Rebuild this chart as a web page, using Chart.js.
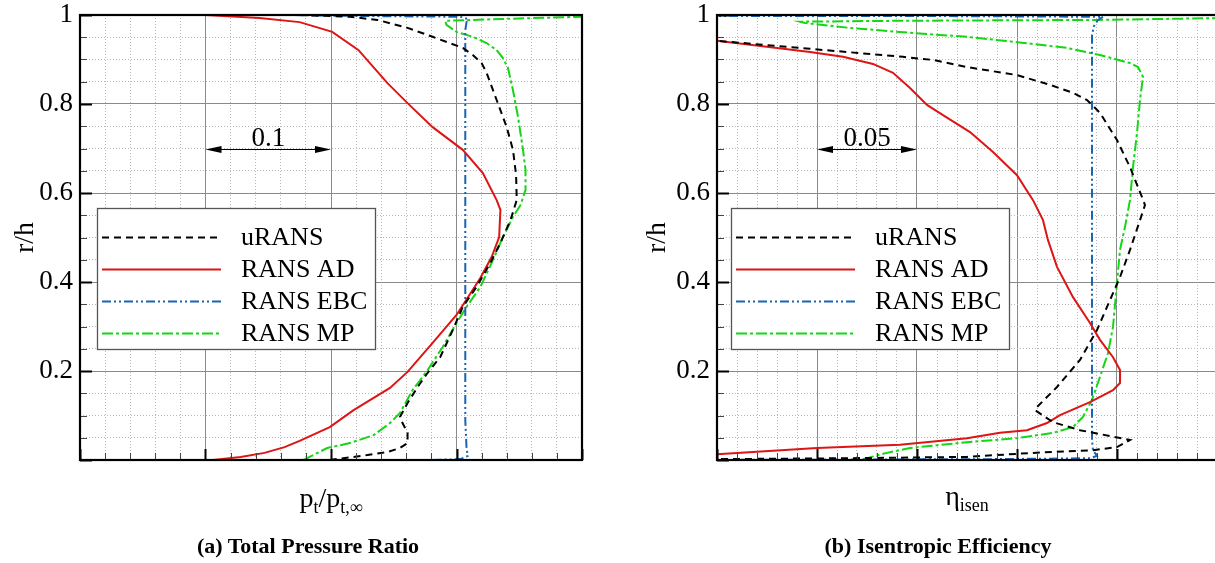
<!DOCTYPE html>
<html><head><meta charset="utf-8">
<script src="https://cdn.jsdelivr.net/npm/chart.js@4.4.1/dist/chart.umd.min.js"></script>
<style>
html,body{margin:0;padding:0;background:#fff;overflow:hidden;width:1215px;height:563px;}
#wrap{position:relative;width:1215px;height:563px;overflow:hidden;font-family:'Liberation Serif','Times New Roman',serif;color:#000;}
canvas{position:absolute;top:0;}
.xt{position:absolute;font-size:28px;line-height:28px;white-space:nowrap;transform:translateX(-50%);}
.sb{font-size:18px;position:relative;top:6px;}
.cap{position:absolute;font-size:22px;font-weight:bold;line-height:22px;white-space:nowrap;transform:translateX(-50%);}
</style></head>
<body><div id="wrap">
<canvas id="c1" width="600" height="563" style="left:0"></canvas>
<canvas id="c2" width="630" height="563" style="left:600px"></canvas>
<div class="xt" style="left:331px;top:484px">p<span class="sb">t</span>/p<span class="sb">t,∞</span></div>
<div class="xt" style="left:967px;top:482px">η<span class="sb">isen</span></div>
<div class="cap" style="left:308px;top:535px">(a) Total Pressure Ratio</div>
<div class="cap" style="left:938px;top:535px">(b) Isentropic Efficiency</div>
</div>
<script>
// ---------- data: [x value, r/h] ----------
const seriesLabels = ['uRANS', 'RANS AD', 'RANS EBC', 'RANS MP'];

// (a) total pressure ratio
const pt_uRANS = [[0.799,0],[0.829,0.011],[0.845,0.018],[0.855,0.027],[0.861,0.038],[0.861,0.061],[0.857,0.083],[0.855,0.097],[0.861,0.128],[0.869,0.164],[0.877,0.196],[0.887,0.231],[0.897,0.292],[0.905,0.344],[0.916,0.389],[0.927,0.443],[0.935,0.488],[0.943,0.539],[0.948,0.584],[0.9475,0.64],[0.945,0.697],[0.940,0.748],[0.932,0.809],[0.924,0.870],[0.920,0.892],[0.913,0.910],[0.905,0.926],[0.881,0.951],[0.861,0.971],[0.837,0.989],[0.815,0.996],[0.775,1.0]];
const pt_AD = [[0.706,0],[0.728,0.007],[0.747,0.016],[0.763,0.029],[0.775,0.043],[0.799,0.074],[0.818,0.112],[0.847,0.162],[0.861,0.198],[0.881,0.263],[0.900,0.326],[0.919,0.409],[0.928,0.456],[0.934,0.501],[0.935,0.562],[0.932,0.584],[0.921,0.645],[0.905,0.697],[0.881,0.748],[0.861,0.802],[0.845,0.847],[0.831,0.892],[0.822,0.921],[0.801,0.962],[0.775,0.984],[0.743,0.993],[0.700,1.0]];
const pt_EBC = [[0.881,0],[0.903,0.002],[0.909,0.009],[0.908,0.027],[0.907,0.09],[0.907,0.5],[0.907,0.966],[0.908,0.984],[0.909,0.991],[0.903,0.996],[0.815,0.998],[0.767,1.0]];
const pt_MP = [[0.778,0],[0.797,0.027],[0.815,0.038],[0.834,0.056],[0.847,0.083],[0.855,0.106],[0.865,0.157],[0.877,0.202],[0.889,0.254],[0.900,0.308],[0.908,0.344],[0.919,0.389],[0.929,0.449],[0.937,0.501],[0.945,0.546],[0.951,0.573],[0.955,0.607],[0.955,0.652],[0.953,0.697],[0.949,0.771],[0.945,0.831],[0.941,0.881],[0.937,0.903],[0.932,0.921],[0.924,0.937],[0.913,0.951],[0.900,0.962],[0.892,0.978],[0.891,0.987],[0.935,0.991],[1.0,0.996],[1.02,0.997]];

// (b) isentropic efficiency
const eta_uRANS = [[0.74,0.001],[0.75,0.002],[0.8165,0.004],[0.875,0.007],[0.908,0.016],[0.938,0.022],[0.95,0.029],[0.9565,0.045],[0.9315,0.067],[0.918,0.085],[0.909,0.112],[0.91,0.119],[0.92,0.164],[0.9315,0.225],[0.94,0.292],[0.945,0.344],[0.9515,0.411],[0.9565,0.472],[0.9615,0.539],[0.964,0.573],[0.9615,0.602],[0.9565,0.658],[0.95,0.719],[0.9415,0.780],[0.935,0.809],[0.928,0.825],[0.9165,0.843],[0.90,0.865],[0.875,0.883],[0.858,0.899],[0.843,0.906],[0.7965,0.924],[0.75,0.942],[0.74,0.945]];
const eta_AD = [[0.74,0.011],[0.75,0.013],[0.80,0.027],[0.8415,0.034],[0.875,0.049],[0.8915,0.061],[0.905,0.067],[0.915,0.083],[0.9215,0.101],[0.9365,0.130],[0.948,0.157],[0.9515,0.173],[0.9515,0.202],[0.948,0.231],[0.9415,0.270],[0.9365,0.308],[0.928,0.366],[0.92,0.434],[0.9155,0.494],[0.913,0.539],[0.908,0.584],[0.90,0.640],[0.888,0.692],[0.8765,0.737],[0.863,0.775],[0.855,0.798],[0.8465,0.836],[0.838,0.870],[0.828,0.890],[0.813,0.906],[0.7965,0.917],[0.75,0.942],[0.74,0.946]];
const eta_EBC = [[0.74,0.0],[0.8915,0.002],[0.9365,0.004],[0.94,0.009],[0.938,0.022],[0.9375,0.045],[0.9375,0.5],[0.9375,0.955],[0.9385,0.975],[0.9405,0.989],[0.943,0.996],[0.8415,0.998],[0.74,0.998]];
const eta_MP = [[0.823,0.002],[0.835,0.016],[0.8465,0.027],[0.875,0.040],[0.90,0.049],[0.918,0.061],[0.928,0.074],[0.933,0.097],[0.9375,0.135],[0.9415,0.187],[0.9455,0.240],[0.948,0.299],[0.95,0.398],[0.9515,0.472],[0.954,0.524],[0.9565,0.584],[0.958,0.658],[0.96,0.735],[0.9615,0.809],[0.963,0.861],[0.9605,0.883],[0.9565,0.892],[0.9415,0.910],[0.925,0.926],[0.90,0.939],[0.875,0.951],[0.8465,0.960],[0.8165,0.971],[0.794,0.982],[0.7915,0.985],[0.8415,0.987],[0.9415,0.989],[1.0,0.993],[1.01,0.994]];

// axis ranges / ticks
const yRange = [0, 1], yMinorStep = 0.05, yMajorStep = 0.2;
const ptRange = [0.6, 1.0], ptMinorStep = 0.02, ptMajorStep = 0.1;
const etaRange = [0.75, 1.0], etaMinorStep = 0.01, etaMajorStep = 0.05;
// scale-bar annotations
const ptScaleBar = {x0: 0.7, x1: 0.8, y: 0.7, label: '0.1'};
const etaScaleBar = {x0: 0.80, x1: 0.85, y: 0.7, label: '0.05'};

// ---------- styling ----------
const FONT = "'Liberation Serif', 'Times New Roman', serif";
Chart.defaults.font.family = FONT;
Chart.defaults.color = '#000';
const styles = [
  {color: '#000000', dash: [7, 5]},
  {color: '#dd1515', dash: []},
  {color: '#1a64b4', dash: [9, 3, 2, 3, 2, 3]},
  {color: '#14d614', dash: [11, 3, 3, 3]}
];
function isMajor(v, m) { const q = v / m; return Math.abs(q - Math.round(q)) < 1e-6; }
function buildTicks(min, max, step) {
  const t = []; const n = Math.round((max - min) / step);
  for (let i = 0; i <= n; i++) t.push({value: +(min + i * step).toFixed(6)});
  return t;
}

const framePlugin = {
  id: 'frame',
  afterDatasetsDraw(chart, args, o) {
    const {ctx, chartArea: a, scales: {x, y}} = chart;
    ctx.save();
    ctx.setLineDash([]);
    x.ticks.forEach(t => {
      const p = Math.round(x.getPixelForValue(t.value)) + 0.5;
      const maj = isMajor(t.value - o.xMin, o.xMajor);
      ctx.strokeStyle = maj ? '#000' : '#444';
      ctx.lineWidth = maj ? 2 : 1;
      ctx.beginPath(); ctx.moveTo(p, a.bottom); ctx.lineTo(p, a.bottom - (maj ? 11 : 7)); ctx.stroke();
    });
    y.ticks.forEach(t => {
      const p = Math.round(y.getPixelForValue(t.value)) + 0.5;
      const maj = isMajor(t.value, yMajorStep);
      ctx.strokeStyle = maj ? '#000' : '#444';
      ctx.lineWidth = maj ? 2 : 1;
      ctx.beginPath(); ctx.moveTo(a.left, p); ctx.lineTo(a.left + (maj ? 12 : 7), p); ctx.stroke();
    });
    ctx.strokeStyle = '#000';
    ctx.lineWidth = 2.2;
    ctx.strokeRect(a.left, a.top, a.right - a.left, a.bottom - a.top);
    ctx.restore();
  }
};

const scaleBarPlugin = {
  id: 'scaleBar',
  afterDatasetsDraw(chart, args, o) {
    const {ctx, scales: {x, y}} = chart;
    const x0 = x.getPixelForValue(o.x0), x1 = x.getPixelForValue(o.x1);
    const py = Math.round(y.getPixelForValue(o.y)) + 0.5;
    ctx.save();
    ctx.setLineDash([]);
    ctx.strokeStyle = '#000'; ctx.fillStyle = '#000'; ctx.lineWidth = 1;
    ctx.beginPath(); ctx.moveTo(x0 + 4, py); ctx.lineTo(x1 - 4, py); ctx.stroke();
    ctx.beginPath(); ctx.moveTo(x0, py); ctx.lineTo(x0 + 16, py - 3.5); ctx.lineTo(x0 + 16, py + 3.5); ctx.closePath(); ctx.fill();
    ctx.beginPath(); ctx.moveTo(x1, py); ctx.lineTo(x1 - 16, py - 3.5); ctx.lineTo(x1 - 16, py + 3.5); ctx.closePath(); ctx.fill();
    ctx.font = '27px ' + FONT;
    ctx.textAlign = 'center'; ctx.textBaseline = 'alphabetic';
    ctx.fillText(o.label, (x0 + x1) / 2, py - 4);
    ctx.restore();
  }
};

const boxLegendPlugin = {
  id: 'boxLegend',
  afterDatasetsDraw(chart, args, o) {
    const {ctx, chartArea: a} = chart;
    const bx = a.left + o.dx, by = a.top + o.dy;
    ctx.save();
    ctx.setLineDash([]);
    ctx.fillStyle = '#fff';
    ctx.fillRect(bx, by, o.w, o.h);
    ctx.strokeStyle = '#555'; ctx.lineWidth = 1.3;
    ctx.strokeRect(bx + 0.5, by + 0.5, o.w, o.h);
    ctx.font = '26px ' + FONT;
    ctx.textBaseline = 'middle'; ctx.textAlign = 'left';
    chart.data.datasets.forEach((ds, i) => {
      const ry = Math.round(by + 29 + i * 32) + 0.5;
      ctx.strokeStyle = ds.borderColor; ctx.lineWidth = ds.borderWidth;
      ctx.setLineDash(ds.borderDash || []);
      ctx.beginPath(); ctx.moveTo(bx + 5, ry); ctx.lineTo(bx + 124, ry); ctx.stroke();
      ctx.setLineDash([]);
      ctx.fillStyle = '#000';
      ctx.fillText(ds.label, bx + 144, ry + 1);
    });
    ctx.restore();
  }
};

function makeChart(canvas, series, xr, xMinor, xMajor, padding, yWidth, legendPos, bar) {
  return new Chart(canvas, {
    type: 'scatter',
    data: {
      datasets: series.map((s, i) => ({
        label: seriesLabels[i],
        data: s.map(p => ({x: p[0], y: p[1]})),
        showLine: true, pointRadius: 0, pointHoverRadius: 0,
        borderColor: styles[i].color, backgroundColor: styles[i].color,
        borderDash: styles[i].dash, borderWidth: 2, tension: 0, fill: false
      }))
    },
    options: {
      responsive: false, animation: false, devicePixelRatio: 1,
      layout: {padding},
      plugins: {
        legend: {display: false}, tooltip: {enabled: false},
        frame: {xMin: xr[0], xMajor},
        scaleBar: bar,
        boxLegend: legendPos
      },
      scales: {
        x: {
          type: 'linear', min: xr[0], max: xr[1],
          afterBuildTicks: s => { s.ticks = buildTicks(xr[0], xr[1], xMinor); },
          afterFit: s => { s.height = 103; s.paddingLeft = 0; s.paddingRight = 0; },
          ticks: {display: false, autoSkip: false},
          grid: {
            drawTicks: false,
            color: c => isMajor(c.tick.value - xr[0], xMajor) ? '#8a8a8a' : '#b8b8b8',
            lineWidth: 1
          },
          border: {display: false, dash: c => isMajor(c.tick.value - xr[0], xMajor) ? [] : [1, 2]}
        },
        y: {
          type: 'linear', min: yRange[0], max: yRange[1],
          afterBuildTicks: s => { s.ticks = buildTicks(yRange[0], yRange[1], yMinorStep); },
          afterFit: s => { s.width = yWidth; s.paddingTop = 0; s.paddingBottom = 0; },
          ticks: {
            autoSkip: false, padding: 7,
            font: {size: 27, lineHeight: 1},
            callback: v => (isMajor(v, yMajorStep) && v > 1e-9) ? String(+v.toFixed(2)) : ''
          },
          title: {display: true, text: 'r/h', font: {size: 28}, padding: {top: 9, bottom: 0}},
          grid: {
            drawTicks: false,
            color: c => isMajor(c.tick.value, yMajorStep) ? '#8a8a8a' : '#b8b8b8',
            lineWidth: 1
          },
          border: {display: false, dash: c => isMajor(c.tick.value, yMajorStep) ? [] : [1, 2]}
        }
      }
    },
    plugins: [framePlugin, scaleBarPlugin, boxLegendPlugin]
  });
}

makeChart(document.getElementById('c1'), [pt_uRANS, pt_AD, pt_EBC, pt_MP], ptRange, ptMinorStep, ptMajorStep,
  {left: 0, right: 18, top: 15, bottom: 0}, 80, {dx: 17, dy: 193, w: 278, h: 141}, ptScaleBar);
makeChart(document.getElementById('c2'), [eta_uRANS, eta_AD, eta_EBC, eta_MP], etaRange, etaMinorStep, etaMajorStep,
  {left: 32, right: 13, top: 15, bottom: 0}, 85, {dx: 14, dy: 193, w: 278, h: 141}, etaScaleBar);
</script>
</body></html>
